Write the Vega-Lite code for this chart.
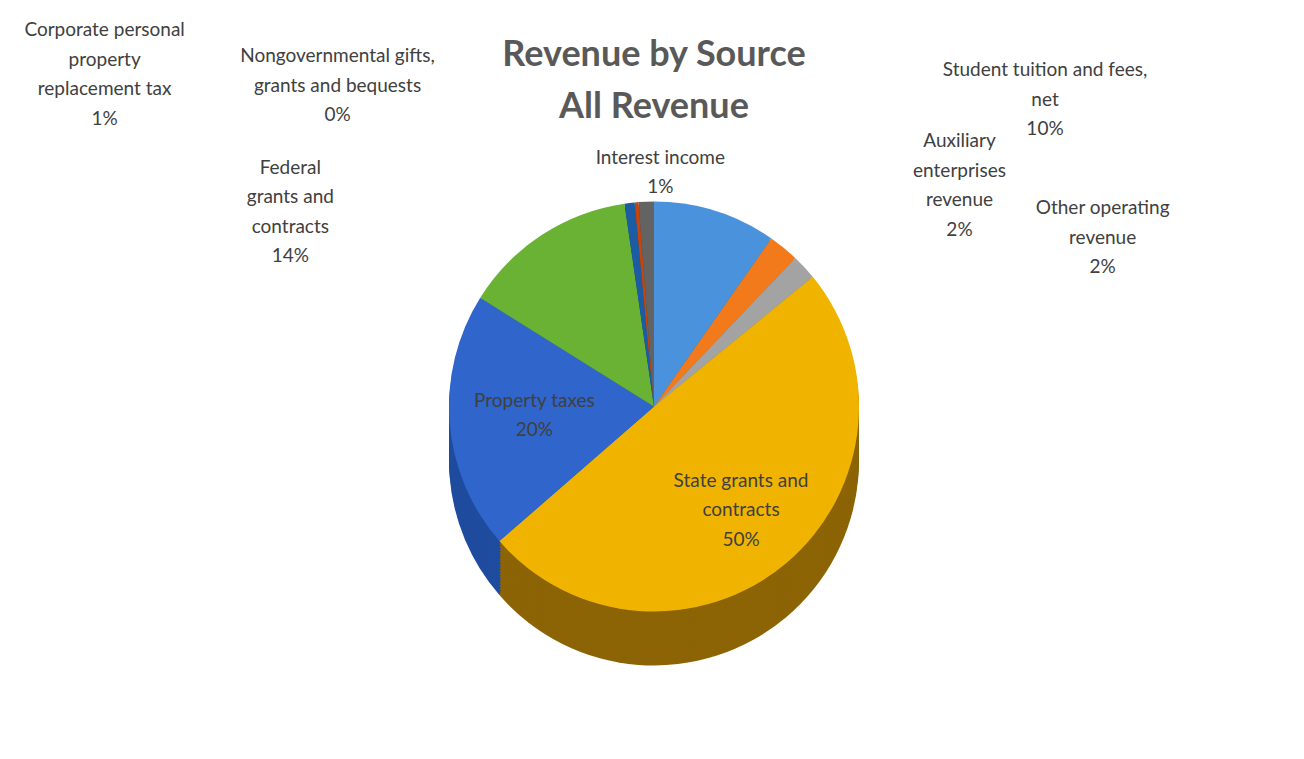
{
  "$schema": "https://vega.github.io/schema/vega-lite/v6.json",
  "width": 1296,
  "height": 755,
  "autosize": "none",
  "padding": {"left": 6, "top": 4, "right": 2, "bottom": 0},
  "background": "white",
  "config": {
    "view": {"stroke": "#D9D9D9", "strokeWidth": 1.5},
    "text": {"font": "Lato", "fontSize": 19, "color": "#404040", "lineHeight": 29.5, "lineBreak": "\n", "align": "center", "baseline": "middle"}
  },
  "title": {
    "text": ["Revenue by Source", "All Revenue"],
    "orient": "top",
    "anchor": "middle",
    "font": "Lato",
    "fontSize": 36,
    "fontWeight": "bold",
    "color": "#595959",
    "lineHeight": 52,
    "baseline": "top",
    "offset": 0,
    "dy": 122
  },
  "data": {
    "values": [
      {"n": 1, "source": "Student tuition and fees, net", "value": 9.7, "label": "Student tuition and fees,\nnet\n10%"},
      {"n": 2, "source": "Auxiliary enterprises revenue", "value": 2.4, "label": "Auxiliary\nenterprises\nrevenue\n2%"},
      {"n": 3, "source": "Other operating revenue", "value": 2.0, "label": "Other operating\nrevenue\n2%"},
      {"n": 4, "source": "State grants and contracts", "value": 49.5, "label": "State grants and\ncontracts\n50%"},
      {"n": 5, "source": "Property taxes", "value": 20.3, "label": "Property taxes\n20%"},
      {"n": 6, "source": "Federal grants and contracts", "value": 13.8, "label": "Federal\ngrants and\ncontracts\n14%"},
      {"n": 7, "source": "Corporate personal property replacement tax", "value": 0.8, "label": "Corporate personal\nproperty\nreplacement tax\n1%"},
      {"n": 8, "source": "Nongovernmental gifts, grants and bequests", "value": 0.3, "label": "Nongovernmental gifts,\ngrants and bequests\n0%"},
      {"n": 9, "source": "Interest income", "value": 1.2, "label": "Interest income\n1%"}
    ]
  },
  "layer": [
    {"mark": {"type": "arc", "radius": 205, "yOffset": 79},
     "encoding": {"theta": {"field": "value", "type": "quantitative", "stack": true}, "order": {"field": "n", "type": "quantitative"},
       "fill": {"field": "source", "type": "nominal", "legend": null,
         "scale": {"domain": ["Student tuition and fees, net", "Auxiliary enterprises revenue", "Other operating revenue", "State grants and contracts", "Property taxes", "Federal grants and contracts", "Corporate personal property replacement tax", "Nongovernmental gifts, grants and bequests", "Interest income"],
                   "range": ["#2F6DAA", "#B55A12", "#7A7A7A", "#8C6405", "#1F4C9E", "#4C8628", "#17477E", "#923409", "#4A4A4A"]}}}},
    {"mark": {"type": "arc", "radius": 205, "yOffset": 76}, "encoding": {"theta": {"field": "value", "type": "quantitative", "stack": true}, "order": {"field": "n", "type": "quantitative"}, "fill": {"field": "source", "type": "nominal", "legend": null}}},
    {"mark": {"type": "arc", "radius": 205, "yOffset": 73}, "encoding": {"theta": {"field": "value", "type": "quantitative", "stack": true}, "order": {"field": "n", "type": "quantitative"}, "fill": {"field": "source", "type": "nominal", "legend": null}}},
    {"mark": {"type": "arc", "radius": 205, "yOffset": 70}, "encoding": {"theta": {"field": "value", "type": "quantitative", "stack": true}, "order": {"field": "n", "type": "quantitative"}, "fill": {"field": "source", "type": "nominal", "legend": null}}},
    {"mark": {"type": "arc", "radius": 205, "yOffset": 67}, "encoding": {"theta": {"field": "value", "type": "quantitative", "stack": true}, "order": {"field": "n", "type": "quantitative"}, "fill": {"field": "source", "type": "nominal", "legend": null}}},
    {"mark": {"type": "arc", "radius": 205, "yOffset": 64}, "encoding": {"theta": {"field": "value", "type": "quantitative", "stack": true}, "order": {"field": "n", "type": "quantitative"}, "fill": {"field": "source", "type": "nominal", "legend": null}}},
    {"mark": {"type": "arc", "radius": 205, "yOffset": 61}, "encoding": {"theta": {"field": "value", "type": "quantitative", "stack": true}, "order": {"field": "n", "type": "quantitative"}, "fill": {"field": "source", "type": "nominal", "legend": null}}},
    {"mark": {"type": "arc", "radius": 205, "yOffset": 58}, "encoding": {"theta": {"field": "value", "type": "quantitative", "stack": true}, "order": {"field": "n", "type": "quantitative"}, "fill": {"field": "source", "type": "nominal", "legend": null}}},
    {"mark": {"type": "arc", "radius": 205, "yOffset": 55}, "encoding": {"theta": {"field": "value", "type": "quantitative", "stack": true}, "order": {"field": "n", "type": "quantitative"}, "fill": {"field": "source", "type": "nominal", "legend": null}}},
    {"mark": {"type": "arc", "radius": 205, "yOffset": 52}, "encoding": {"theta": {"field": "value", "type": "quantitative", "stack": true}, "order": {"field": "n", "type": "quantitative"}, "fill": {"field": "source", "type": "nominal", "legend": null}}},
    {"mark": {"type": "arc", "radius": 205, "yOffset": 49}, "encoding": {"theta": {"field": "value", "type": "quantitative", "stack": true}, "order": {"field": "n", "type": "quantitative"}, "fill": {"field": "source", "type": "nominal", "legend": null}}},
    {"mark": {"type": "arc", "radius": 205, "yOffset": 46}, "encoding": {"theta": {"field": "value", "type": "quantitative", "stack": true}, "order": {"field": "n", "type": "quantitative"}, "fill": {"field": "source", "type": "nominal", "legend": null}}},
    {"mark": {"type": "arc", "radius": 205, "yOffset": 43}, "encoding": {"theta": {"field": "value", "type": "quantitative", "stack": true}, "order": {"field": "n", "type": "quantitative"}, "fill": {"field": "source", "type": "nominal", "legend": null}}},
    {"mark": {"type": "arc", "radius": 205, "yOffset": 40}, "encoding": {"theta": {"field": "value", "type": "quantitative", "stack": true}, "order": {"field": "n", "type": "quantitative"}, "fill": {"field": "source", "type": "nominal", "legend": null}}},
    {"mark": {"type": "arc", "radius": 205, "yOffset": 37}, "encoding": {"theta": {"field": "value", "type": "quantitative", "stack": true}, "order": {"field": "n", "type": "quantitative"}, "fill": {"field": "source", "type": "nominal", "legend": null}}},
    {"mark": {"type": "arc", "radius": 205, "yOffset": 34}, "encoding": {"theta": {"field": "value", "type": "quantitative", "stack": true}, "order": {"field": "n", "type": "quantitative"}, "fill": {"field": "source", "type": "nominal", "legend": null}}},
    {"mark": {"type": "arc", "radius": 205, "yOffset": 31}, "encoding": {"theta": {"field": "value", "type": "quantitative", "stack": true}, "order": {"field": "n", "type": "quantitative"}, "fill": {"field": "source", "type": "nominal", "legend": null}}},
    {"mark": {"type": "arc", "radius": 205, "yOffset": 28}, "encoding": {"theta": {"field": "value", "type": "quantitative", "stack": true}, "order": {"field": "n", "type": "quantitative"}, "fill": {"field": "source", "type": "nominal", "legend": null}}},
    {
      "mark": {"type": "arc", "radius": 205, "yOffset": 25},
      "encoding": {
        "theta": {"field": "value", "type": "quantitative", "stack": true},
        "order": {"field": "n", "type": "quantitative"},
        "color": {"field": "source", "type": "nominal", "legend": null,
          "scale": {"domain": ["Student tuition and fees, net", "Auxiliary enterprises revenue", "Other operating revenue", "State grants and contracts", "Property taxes", "Federal grants and contracts", "Corporate personal property replacement tax", "Nongovernmental gifts, grants and bequests", "Interest income"],
                    "range": ["#4A92DC", "#F27A1A", "#A3A3A3", "#F0B400", "#3065CB", "#69B234", "#1B5CA3", "#C4460C", "#636363"]}}
      }
    },
    {
      "mark": {"type": "text", "radius": 135, "dy": -4},
      "encoding": {
        "theta": {"field": "value", "type": "quantitative", "stack": true},
        "order": {"field": "n", "type": "quantitative"},
        "detail": {"field": "source", "type": "nominal"},
        "text": {"field": "label", "type": "nominal", "condition": {"test": "datum.source !== 'State grants and contracts'", "value": ""}}
      }
    },
    {
      "mark": {"type": "text", "radius": 120, "dy": 10},
      "encoding": {
        "theta": {"field": "value", "type": "quantitative", "stack": true},
        "order": {"field": "n", "type": "quantitative"},
        "detail": {"field": "source", "type": "nominal"},
        "text": {"field": "label", "type": "nominal", "condition": {"test": "datum.source !== 'Property taxes'", "value": ""}}
      }
    },
    {
      "mark": {"type": "text", "radius": 230, "dx": 322, "dy": -92},
      "encoding": {
        "theta": {"field": "value", "type": "quantitative", "stack": true},
        "order": {"field": "n", "type": "quantitative"},
        "detail": {"field": "source", "type": "nominal"},
        "text": {"field": "label", "type": "nominal", "condition": {"test": "datum.source !== 'Student tuition and fees, net'", "value": ""}}
      }
    },
    {
      "mark": {"type": "text", "radius": 230, "dx": 160, "dy": -62},
      "encoding": {
        "theta": {"field": "value", "type": "quantitative", "stack": true},
        "order": {"field": "n", "type": "quantitative"},
        "detail": {"field": "source", "type": "nominal"},
        "text": {"field": "label", "type": "nominal", "condition": {"test": "datum.source !== 'Auxiliary enterprises revenue'", "value": ""}}
      }
    },
    {
      "mark": {"type": "text", "radius": 230, "dx": 280, "dy": -17},
      "encoding": {
        "theta": {"field": "value", "type": "quantitative", "stack": true},
        "order": {"field": "n", "type": "quantitative"},
        "detail": {"field": "source", "type": "nominal"},
        "text": {"field": "label", "type": "nominal", "condition": {"test": "datum.source !== 'Other operating revenue'", "value": ""}}
      }
    },
    {
      "mark": {"type": "text", "radius": 230, "dx": -238, "dy": -21},
      "encoding": {
        "theta": {"field": "value", "type": "quantitative", "stack": true},
        "order": {"field": "n", "type": "quantitative"},
        "detail": {"field": "source", "type": "nominal"},
        "text": {"field": "label", "type": "nominal", "condition": {"test": "datum.source !== 'Federal grants and contracts'", "value": ""}}
      }
    },
    {
      "mark": {"type": "text", "radius": 230, "dx": -522, "dy": -123},
      "encoding": {
        "theta": {"field": "value", "type": "quantitative", "stack": true},
        "order": {"field": "n", "type": "quantitative"},
        "detail": {"field": "source", "type": "nominal"},
        "text": {"field": "label", "type": "nominal", "condition": {"test": "datum.source !== 'Corporate personal property replacement tax'", "value": ""}}
      }
    },
    {
      "mark": {"type": "text", "radius": 230, "dx": -297, "dy": -96},
      "encoding": {
        "theta": {"field": "value", "type": "quantitative", "stack": true},
        "order": {"field": "n", "type": "quantitative"},
        "detail": {"field": "source", "type": "nominal"},
        "text": {"field": "label", "type": "nominal", "condition": {"test": "datum.source !== 'Nongovernmental gifts, grants and bequests'", "value": ""}}
      }
    },
    {
      "mark": {"type": "text", "radius": 230, "dx": 15, "dy": 6},
      "encoding": {
        "theta": {"field": "value", "type": "quantitative", "stack": true},
        "order": {"field": "n", "type": "quantitative"},
        "detail": {"field": "source", "type": "nominal"},
        "text": {"field": "label", "type": "nominal", "condition": {"test": "datum.source !== 'Interest income'", "value": ""}}
      }
    }
  ]
}
